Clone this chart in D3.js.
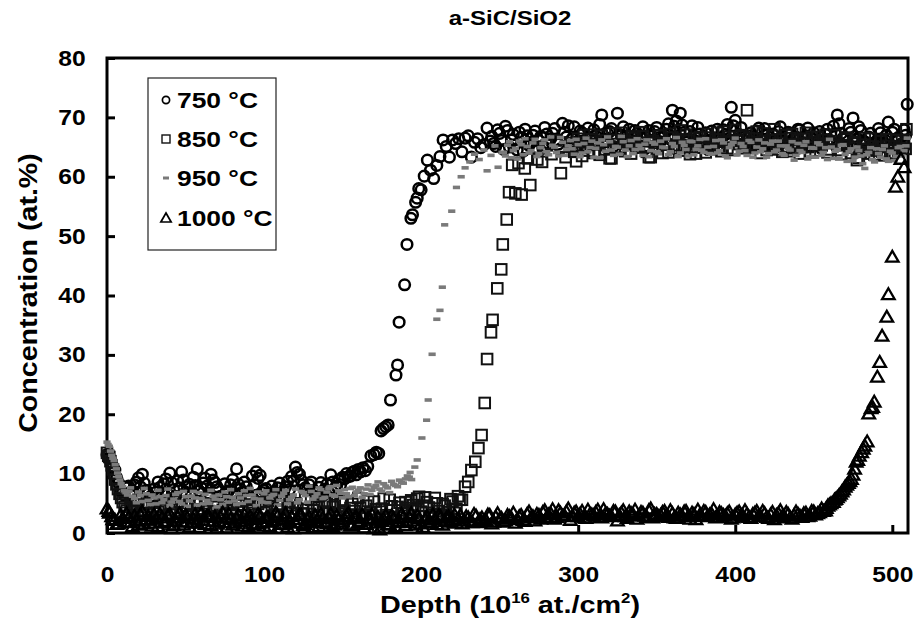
<!DOCTYPE html>
<html>
<head>
<meta charset="utf-8">
<script src="https://cdn.jsdelivr.net/npm/d3@7"></script>
<style>
	body { margin: 0; background: #fff; }
	text { font-family: "Liberation Sans", Arial, sans-serif; font-weight: bold; fill: #000; }
</style>
</head>
<body>
<div id="chart"></div>
<script>
// depth (10^16 at./cm2) , concentration (at.%)
const s750 = [[0,13.2],[1.2,12.6],[2.5,11.9],[3.7,11.2],[5,10.6],[6.2,9.3],[7.5,8.4],[8.7,7.1],[10,6.9],[11.2,6.3],[12.5,7.6],[13.7,7.9],[15,6.4],[16.2,7.0],[17.5,8.1],[18.7,8.6],[20,9.3],[21.2,7.8],[22.5,9.9],[23.7,8.4],[25,7.2],[26.2,6.6],[27.5,6.1],[28.7,5.9],[30,7.4],[31.2,6.9],[32.5,8.6],[33.7,7.7],[35,6.8],[36.2,8.3],[37.5,9.1],[38.7,6.6],[40,10.1],[41.2,8.5],[42.5,7.3],[43.7,6.2],[45,8.8],[46.2,7.6],[47.5,10.3],[48.7,8.9],[50,6.9],[51.2,7.8],[52.5,8.2],[53.7,6.3],[55,9.4],[56.2,8.0],[57.5,10.8],[58.7,7.1],[60,7.6],[61.2,8.4],[62.5,9.2],[63.7,7.9],[65,6.7],[66.2,9.9],[67.5,8.9],[68.7,8.5],[70,7.8],[71.2,7.3],[72.5,6.2],[73.7,5.8],[75,8.3],[76.2,6.9],[77.5,7.1],[78.7,8.1],[80,9.0],[81.2,6.7],[82.5,10.8],[83.7,8.2],[85,7.4],[86.2,6.9],[87.5,8.6],[88.7,7.8],[90,6.4],[91.2,5.9],[92.5,9.6],[93.7,8.1],[95,10.3],[96.2,9.2],[97.5,9.7],[98.7,6.8],[100,7.2],[101.2,7.5],[102.5,6.5],[103.7,5.7],[105,7.9],[106.2,6.8],[107.5,6.1],[108.7,7.6],[110,8.4],[111.2,6.4],[112.5,7.0],[113.7,7.8],[115,8.7],[116.2,7.3],[117.5,9.5],[118.7,8.8],[120,11.1],[121.2,10.2],[122.5,9.9],[123.7,8.9],[125,8.1],[126.2,7.6],[127.5,7.3],[128.7,8.1],[130,8.6],[131.2,7.2],[132.5,6.8],[133.7,6.1],[135,7.7],[136.2,8.5],[137.5,6.3],[138.7,7.4],[140,8.2],[141.2,6.8],[142.5,9.8],[143.7,8.6],[145,7.5],[146.2,7.9],[147.5,8.9],[148.7,8.1],[150,9.4],[151.2,9.1],[152.5,10.0],[153.7,9.5],[155,9.6],[156.2,10.2],[157.5,10.4],[158.7,9.8],[160,10.7],[161.5,10.3],[163,11.0],[164.5,10.5],[166,11.2],[168,13.0],[170,13.2],[171.5,13.6],[173,13.4],[174.5,17.2],[176,17.6],[177.5,17.9],[179,18.2],[180.5,22.4],[184,26.6],[185,28.3],[186,35.5],[189.5,41.8],[191,48.6],[193.5,53.0],[194.5,53.6],[196.5,55.7],[197.5,56.4],[198.5,58.0],[200,57.8],[202,60.1],[204,62.8],[206,61.1],[208,59.7],[210,61.9],[212,63.4],[214,66.2],[216,65.1],[218,63.3],[220,66.2],[222,65.6],[224,66.4],[226,64.2],[228,66.5],[230,66.9],[232,63.3],[234,65.8],[236,66.4],[238,64.9],[240,65.4],[242,68.2],[244,66.0],[245,66.8],[247.5,65.1],[250,67.3],[252.5,64.6],[255,67.8],[257.5,66.2],[260,65.4],[262.5,67.5],[265,64.3],[267.5,66.9],[270,65.8],[272.5,67.7],[275,66.1],[277.5,64.8],[280,67.2],[282.5,66.4],[285,68.1],[287.5,65.5],[290,69.0],[292.5,66.7],[295,65.2],[297.5,68.4],[300,66.0],[302.5,67.4],[305,64.9],[307.5,66.6],[310,67.9],[312.5,65.7],[315,70.4],[317.5,66.3],[320,67.6],[322.5,65.1],[325,70.7],[327.5,67.0],[330,66.2],[332.5,68.0],[335,65.6],[337.5,67.3],[340,66.5],[342.5,64.7],[345,67.8],[347.5,66.1],[350,68.3],[352.5,65.9],[355,67.1],[357.5,68.9],[360,71.2],[362.5,69.4],[365,70.7],[367.5,67.5],[370,66.3],[372.5,68.6],[375,65.4],[377.5,67.2],[380,66.0],[382.5,64.6],[385,67.7],[387.5,66.4],[390,65.1],[392.5,67.9],[395,68.8],[397.5,71.7],[400,69.5],[402.5,67.1],[405,66.2],[407.5,64.8],[410,67.4],[412.5,66.6],[415,68.2],[417.5,65.3],[420,67.0],[422.5,66.1],[425,64.9],[427.5,67.6],[430,66.3],[432.5,65.0],[435,67.3],[437.5,66.6],[440,68.0],[442.5,65.8],[445,66.9],[447.5,65.2],[450,67.4],[452.5,66.0],[455,64.7],[457.5,67.1],[460,66.2],[462.5,68.5],[465,70.4],[467.5,67.3],[470,66.6],[472.5,68.1],[475,69.9],[477.5,66.4],[480,67.8],[482.5,65.9],[485,66.7],[487.5,64.8],[490,66.0],[492.5,67.4],[495,65.6],[497.5,69.2],[500,67.5],[502.5,66.3],[505,65.4],[507.5,67.9],[509.5,72.2],
[246.2,65.6],[248.7,67.9],[251.2,66.1],[253.7,68.5],[256.2,65.0],[258.7,67.1],[261.2,64.5],[263.7,66.6],[266.2,68.0],[268.7,65.3],[271.2,67.0],[273.7,64.9],[276.2,66.8],[278.7,68.3],[281.2,65.6],[283.7,67.3],[286.2,66.2],[288.7,64.7],[291.2,67.5],[293.7,68.6],[296.2,66.4],[298.7,65.1],[301.2,67.7],[303.7,66.0],[306.2,68.2],[308.7,65.4],[311.2,66.9],[313.7,68.8],[316.2,65.8],[318.7,67.3],[321.2,68.1],[323.7,66.5],[326.2,64.8],[328.7,68.4],[331.2,66.9],[333.7,65.5],[336.2,67.8],[338.7,66.0],[341.2,68.4],[343.7,65.2],[346.2,66.8],[348.7,67.6],[351.2,64.9],[353.7,66.6],[356.2,68.0],[358.7,66.3],[361.2,68.5],[363.7,66.0],[366.2,68.7],[368.7,65.9],[371.2,67.6],[373.7,66.2],[376.2,68.3],[378.7,65.7],[381.2,67.4],[383.7,66.1],[386.2,64.9],[388.7,68.0],[391.2,66.5],[393.7,67.1],[396.2,65.8],[398.7,68.6],[401.2,66.4],[403.7,68.3],[406.2,65.5],[408.7,66.9],[411.2,65.0],[413.7,67.7],[416.2,66.3],[418.7,68.1],[421.2,65.4],[423.7,67.2],[426.2,66.0],[428.7,68.4],[431.2,65.9],[433.7,67.5],[436.2,65.1],[438.7,66.7],[441.2,67.9],[443.7,65.6],[446.2,68.2],[448.7,66.4],[451.2,65.3],[453.7,67.6],[456.2,66.1],[458.7,68.0],[461.2,65.7],[463.7,67.2],[466.2,68.9],[468.7,66.5],[471.2,65.2],[473.7,67.5],[476.2,66.8],[478.7,68.4],[481.2,66.0],[483.7,64.6],[486.2,67.3],[488.7,65.7],[491.2,68.1],[493.7,66.2],[496.2,67.0],[498.7,65.3],[501.2,68.0],[503.7,66.6],[506.2,64.9],[508.5,67.0]];

const s850 = [[0,13.5],[1.5,12.8],[3,11.4],[4.5,10.1],[6,8.2],[8,6.6],[10,5.2],[12.5,3.8],[15,4.9],[17.5,2.6],[20,5.6],[22.5,3.4],[25,4.4],[27.5,2.2],[30,5.1],[32.5,3.6],[35,1.9],[37.5,4.7],[40,3.1],[42.5,5.8],[45,2.5],[47.5,4.2],[50,3.3],[52.5,5.4],[55,1.8],[57.5,4.0],[60,2.9],[62.5,5.0],[65,3.7],[67.5,2.1],[70,4.6],[72.5,3.2],[75,5.5],[77.5,2.4],[80,4.1],[82.5,3.0],[85,5.3],[87.5,1.7],[90,3.9],[92.5,4.8],[95,2.6],[97.5,5.2],[100,3.5],[102.5,2.0],[105,4.5],[107.5,3.1],[110,5.7],[112.5,2.3],[115,4.3],[117.5,3.4],[120,5.0],[122.5,1.9],[125,4.0],[127.5,3.2],[130,5.6],[132.5,2.7],[135,4.4],[137.5,3.6],[140,5.1],[142.5,2.2],[145,4.7],[147.5,3.3],[150,5.4],[152.5,2.8],[155,4.2],[157.5,3.7],[160,5.9],[162.5,2.5],[165,4.6],[167.5,3.4],[170,5.3],[172.5,1.2],[175,4.1],[177.5,3.0],[180,5.6],[182.5,2.6],[185,4.4],[187.5,3.8],[190,5.2],[192.5,2.9],[195,4.7],[197.5,5.8],[200,3.6],[202.5,6.0],[205,4.3],[207.5,3.1],[210,5.0],[212.5,2.4],[215,4.6],[217.5,3.5],[220,5.3],[222.5,4.1],[224.5,5.6],[226,5.6],[228,7.8],[230,8.6],[232,10.6],[234.5,12.0],[236.5,14.3],[238.5,16.5],[240.5,21.9],[242,29.3],[244.5,33.8],[245.5,35.9],[248.5,41.2],[251,44.4],[252,48.6],[254.5,52.8],[256,57.4],[258,62.0],[260,57.2],[262,62.3],[264,57.0],[266,61.4],[268,63.1],[269.5,58.6],[272,64.8],[274,62.9],[277,62.5],[280,65.3],[283,63.8],[286,66.1],[289,60.6],[292,63.3],[295,65.7],[297.5,64.2],[300,66.4],[302.5,63.5],[305,65.8],[307.5,67.1],[310,64.0],[312.5,65.5],[315,66.9],[317.5,64.6],[320,63.1],[322.5,66.2],[325,65.0],[327.5,67.4],[330,64.3],[332.5,65.9],[335,66.8],[337.5,64.9],[340,67.5],[342.5,65.2],[345,63.3],[347.5,66.0],[350,64.7],[352.5,67.0],[355,65.6],[357.5,64.1],[360,66.6],[362.5,65.3],[365,67.8],[367.5,64.4],[370,66.1],[372.5,65.0],[375,63.9],[377.5,66.7],[380,65.4],[382.5,67.2],[385,64.6],[387.5,66.3],[390,65.1],[392.5,67.6],[395,64.8],[397.5,66.0],[400,67.9],[402.5,65.5],[405,66.8],[407.5,71.2],[410,64.9],[412.5,66.4],[415,65.2],[417.5,67.3],[420,64.5],[422.5,66.1],[425,68.0],[427.5,65.7],[430,64.2],[432.5,67.0],[435,66.5],[437.5,64.8],[440,66.2],[442.5,65.0],[445,67.4],[447.5,64.1],[450,65.9],[452.5,66.7],[455,65.3],[457.5,67.1],[460,64.6],[462.5,66.0],[465,65.4],[467.5,63.8],[470,66.3],[472.5,64.9],[475,65.6],[477.5,62.8],[480,64.2],[482.5,66.5],[485,63.9],[487.5,65.1],[490,64.4],[492.5,66.0],[495,63.6],[497.5,65.2],[500,64.0],[502.5,66.2],[505,64.8],[507.5,65.5],[509,68.0],
[0.8,13.0],[2.2,12.1],[3.8,10.7],[5.2,9.0],[7,7.4],[9,5.9],[11.2,4.4],[13.7,2.9],[16.2,4.1],[18.7,5.3],[21.2,2.1],[23.7,4.8],[26.2,3.2],[28.7,5.5],[31.2,2.6],[33.7,4.5],[36.2,3.9],[38.7,1.5],[41.2,4.9],[43.7,3.5],[46.2,5.3],[48.7,2.0],[51.2,4.6],[53.7,3.0],[56.2,5.1],[58.7,2.3],[61.2,3.8],[63.7,5.9],[66.2,2.7],[68.7,4.4],[71.2,1.6],[73.7,3.9],[76.2,5.0],[78.7,3.3],[81.2,2.2],[83.7,4.7],[86.2,3.6],[88.7,5.6],[91.2,2.4],[93.7,3.4],[96.2,4.9],[98.7,1.8],[101.2,4.2],[103.7,5.4],[106.2,2.8],[108.7,3.7],[111.2,4.6],[113.7,1.5],[116.2,5.2],[118.7,2.9],[121.2,4.1],[123.7,3.3],[126.2,5.7],[128.7,2.4],[131.2,3.9],[133.7,4.8],[136.2,2.0],[138.7,5.3],[141.2,3.5],[143.7,4.4],[146.2,2.6],[148.7,5.0],[151.2,3.8],[153.7,1.6],[156.2,4.9],[158.7,2.9],[161.2,4.3],[163.7,3.1],[166.2,5.4],[168.7,2.2],[171.2,4.0],[173.7,3.6],[176.2,5.8],[178.7,2.7],[181.2,4.5],[183.7,1.9],[186.2,5.1],[188.7,3.3],[191.2,4.2],[193.7,5.5],[196.2,3.9],[198.7,6.1],[201.2,4.6],[203.7,5.2],[206.2,2.8],[208.7,5.9],[211.2,3.7],[213.7,4.9],[216.2,2.1],[218.7,5.7],[221.2,3.4],[223.5,6.2],
[296.2,65.0],[298.7,62.6],[301.2,65.2],[303.7,67.0],[306.2,64.4],[308.7,66.3],[311.2,65.9],[313.7,63.7],[316.2,66.1],[318.7,65.3],[321.2,63.1],[323.7,67.3],[326.2,64.5],[328.7,66.0],[331.2,65.6],[333.7,63.9],[336.2,66.5],[338.7,65.0],[341.2,66.8],[343.7,64.2],[346.2,63.3],[348.7,65.7],[351.2,66.9],[353.7,64.0],[356.2,65.4],[358.7,67.2],[361.2,64.8],[363.7,66.3],[366.2,65.0],[368.7,67.1],[371.2,63.8],[373.7,66.5],[376.2,64.9],[378.7,65.8],[381.2,64.1],[383.7,66.6],[386.2,65.2],[388.7,67.4],[391.2,64.3],[393.7,65.9],[396.2,66.7],[398.7,64.5],[401.2,66.1],[403.7,67.0],[406.2,64.8],[408.7,66.5],[411.2,65.4],[413.7,67.6],[416.2,64.0],[418.7,66.0],[421.2,65.2],[423.7,66.9],[426.2,64.6],[428.7,66.3],[431.2,65.1],[433.7,64.3],[436.2,67.2],[438.7,65.5],[441.2,63.9],[443.7,66.4],[446.2,65.0],[448.7,66.7],[451.2,64.4],[453.7,65.6],[456.2,66.2],[458.7,64.1],[461.2,65.7],[463.7,67.0],[466.2,64.5],[468.7,65.3],[471.2,66.6],[473.7,64.0],[476.2,65.8],[478.7,63.2],[481.2,65.4],[483.7,64.6],[486.2,66.4],[488.7,63.7],[491.2,65.0],[493.7,64.2],[496.2,66.3],[498.7,63.9],[501.2,65.1],[503.7,64.4],[506.2,66.0],[508.5,64.7]];

const s950 = [[0,15.3],[1.5,14.6],[3,13.1],[4.5,12.2],[6,10.8],[7.5,9.5],[9,8.3],[11,7.1],[13,6.4],[15,7.6],[17.5,5.8],[20,6.9],[22.5,5.3],[25,6.6],[27.5,4.8],[30,5.9],[32.5,7.2],[35,5.1],[37.5,6.3],[40,4.6],[42.5,5.7],[45,6.8],[47.5,4.9],[50,6.1],[52.5,5.4],[55,7.0],[57.5,4.7],[60,5.8],[62.5,6.5],[65,5.0],[67.5,6.2],[70,4.4],[72.5,5.6],[75,6.9],[77.5,5.2],[80,6.0],[82.5,4.8],[85,5.9],[87.5,7.1],[90,5.3],[92.5,6.4],[95,4.6],[97.5,5.7],[100,6.6],[102.5,5.1],[105,6.3],[107.5,7.3],[110,5.5],[112.5,6.7],[115,4.9],[117.5,6.0],[120,7.4],[122.5,5.6],[125,6.8],[127.5,5.2],[130,7.0],[132.5,6.1],[135,7.6],[137.5,5.8],[140,6.9],[142.5,7.8],[145,6.2],[147.5,7.1],[150,5.9],[152.5,6.6],[155,7.5],[157.5,6.3],[160,7.2],[162.5,6.0],[165,7.4],[167.5,6.5],[170,7.7],[172.5,8.6],[175,7.0],[177.5,7.9],[180,6.8],[182.5,8.2],[185,7.8],[187.5,8.5],[190,9.1],[192.5,9.4],[194,9.0],[196,11.1],[197.5,12.3],[200.5,16.0],[203.5,19.0],[204.5,22.4],[207,30.1],[210,36.0],[212,37.5],[213.5,41.4],[215,51.9],[219.5,54.2],[222.5,58.2],[225.5,60.0],[228,61.5],[231,62.5],[234,63.8],[237,62.9],[240,64.5],[242,61.0],[244.5,63.6],[247,65.2],[249,61.6],[251.5,64.1],[252.5,64.1],[255,65.3],[257.5,63.2],[260,64.8],[262.5,66.0],[265,63.7],[267.5,65.1],[270,64.4],[272.5,66.3],[275,63.9],[277.5,65.6],[280,64.2],[282.5,66.7],[285,65.0],[287.5,63.5],[290,65.8],[292.5,64.6],[295,66.1],[297.5,63.8],[300,65.4],[302.5,64.0],[305,66.5],[307.5,64.9],[310,63.3],[312.5,65.7],[315,66.2],[317.5,64.3],[320,65.9],[322.5,63.6],[325,65.0],[327.5,66.8],[330,64.5],[332.5,65.2],[335,63.9],[337.5,66.4],[340,64.7],[342.5,65.5],[345,63.4],[347.5,65.8],[350,64.2],[352.5,66.0],[355,64.9],[357.5,63.7],[360,65.6],[362.5,66.6],[365,64.0],[367.5,65.3],[370,63.5],[372.5,65.9],[375,64.6],[377.5,66.3],[380,64.1],[382.5,65.0],[385,63.8],[387.5,66.1],[390,64.4],[392.5,65.7],[395,63.2],[397.5,65.4],[400,66.5],[402.5,64.3],[405,65.1],[407.5,63.6],[410,65.8],[412.5,64.0],[415,66.2],[417.5,64.7],[420,63.3],[422.5,65.5],[425,64.2],[427.5,66.0],[430,63.9],[432.5,65.2],[435,64.5],[437.5,62.8],[440,65.6],[442.5,64.1],[445,65.9],[447.5,63.4],[450,64.8],[452.5,65.7],[455,63.6],[457.5,64.9],[460,66.3],[462.5,63.1],[465,64.6],[467.5,65.3],[470,63.8],[472.5,64.2],[475,62.7],[477.5,65.0],[480,63.5],[482.5,61.4],[485,64.1],[487.5,62.9],[490,64.7],[492.5,63.3],[495,65.2],[497.5,62.6],[500,64.0],[502.5,63.4],[505,65.1],[507.5,64.4],[509.5,66.5],
[0.7,14.9],[2.2,13.8],[3.7,12.6],[5.2,11.5],[6.7,10.1],[8.2,8.9],[10,7.8],[12,6.8],[14,7.0],[16.2,6.2],[18.7,5.1],[21.2,6.3],[23.7,7.5],[26.2,5.5],[28.7,6.4],[31.2,4.9],[33.7,6.1],[36.2,5.6],[38.7,7.4],[41.2,5.2],[43.7,6.5],[46.2,5.3],[48.7,7.0],[51.2,4.5],[53.7,6.2],[56.2,5.9],[58.7,6.8],[61.2,4.9],[63.7,5.5],[66.2,7.2],[68.7,5.7],[71.2,6.4],[73.7,4.8],[76.2,6.1],[78.7,7.3],[81.2,5.4],[83.7,6.6],[86.2,5.0],[88.7,6.3],[91.2,7.5],[93.7,5.8],[96.2,6.9],[98.7,5.2],[101.2,7.1],[103.7,5.9],[106.2,6.5],[108.7,4.7],[111.2,6.2],[113.7,7.2],[116.2,5.6],[118.7,6.4],[121.2,5.1],[123.7,7.0],[126.2,6.3],[128.7,7.9],[131.2,5.7],[133.7,6.6],[136.2,7.3],[138.7,6.0],[141.2,7.5],[143.7,6.4],[146.2,8.0],[148.7,6.7],[151.2,7.3],[153.7,6.1],[156.2,7.7],[158.7,6.9],[161.2,7.6],[163.7,6.6],[166.2,8.1],[168.7,7.2],[171.2,8.0],[173.7,7.4],[176.2,8.3],[178.7,7.6],[181.2,8.7],[183.7,8.0],[186.2,8.9],[188.7,8.4],[191.2,9.6],[193,10.2],
[253.7,63.5],[256.2,65.9],[258.7,64.4],[261.2,63.0],[263.7,65.4],[266.2,66.4],[268.7,64.0],[271.2,65.7],[273.7,63.4],[276.2,64.9],[278.7,66.2],[281.2,63.7],[283.7,65.3],[286.2,64.1],[288.7,66.6],[291.2,63.6],[293.7,65.2],[296.2,64.7],[298.7,66.3],[301.2,63.4],[303.7,65.6],[306.2,64.2],[308.7,66.0],[311.2,64.8],[313.7,63.2],[316.2,65.4],[318.7,66.7],[321.2,64.5],[323.7,65.1],[326.2,63.8],[328.7,65.9],[331.2,63.4],[333.7,66.1],[336.2,64.6],[338.7,65.3],[341.2,63.6],[343.7,66.2],[346.2,64.4],[348.7,65.5],[351.2,63.9],[353.7,65.0],[356.2,66.4],[358.7,64.2],[361.2,65.1],[363.7,63.4],[366.2,65.8],[368.7,64.6],[371.2,66.0],[373.7,63.7],[376.2,65.2],[378.7,64.5],[381.2,66.4],[383.7,63.9],[386.2,65.1],[388.7,64.0],[391.2,66.2],[393.7,63.5],[396.2,64.9],[398.7,65.8],[401.2,63.7],[403.7,65.6],[406.2,64.4],[408.7,66.1],[411.2,63.3],[413.7,65.0],[416.2,64.2],[418.7,65.7],[421.2,63.9],[423.7,66.0],[426.2,64.5],[428.7,65.2],[431.2,63.6],[433.7,64.8],[436.2,65.9],[438.7,63.6],[441.2,64.4],[443.7,65.3],[446.2,63.0],[448.7,64.9],[451.2,63.3],[453.7,65.4],[456.2,64.1],[458.7,62.9],[461.2,65.0],[463.7,64.3],[466.2,63.1],[468.7,65.4],[471.2,62.6],[473.7,64.7],[476.2,63.3],[478.7,64.4],[481.2,62.2],[483.7,63.7],[486.2,64.9],[488.7,62.5],[491.2,63.9],[493.7,64.6],[496.2,63.0],[498.7,64.3],[501.2,62.7],[503.7,64.9],[506.2,63.5],[508.7,65.2]];

const s1000 = [[0,3.9],[1.5,3.2],[3,2.6],[5,2.0],[7.5,1.4],[10,2.3],[12.5,3.1],[15,1.6],[17.5,2.7],[20,1.2],[22.5,3.4],[25,2.1],[27.5,1.5],[30,2.9],[32.5,0.9],[35,2.4],[37.5,1.8],[40,3.0],[42.5,1.1],[45,2.5],[47.5,1.7],[50,2.8],[52.5,0.8],[55,2.2],[57.5,1.5],[60,3.1],[62.5,1.3],[65,2.6],[67.5,1.9],[70,0.7],[72.5,2.4],[75,1.6],[77.5,3.0],[80,1.2],[82.5,2.3],[85,1.8],[87.5,2.9],[90,0.9],[92.5,2.1],[95,1.4],[97.5,2.7],[100,1.0],[102.5,2.5],[105,1.7],[107.5,3.2],[110,1.3],[112.5,2.2],[115,0.8],[117.5,2.6],[120,1.5],[122.5,2.9],[125,1.1],[127.5,2.0],[130,1.6],[132.5,2.8],[135,0.9],[137.5,2.3],[140,1.4],[142.5,3.0],[145,1.2],[147.5,2.1],[150,1.7],[152.5,2.7],[155,1.0],[157.5,2.4],[160,1.5],[162.5,2.9],[165,1.3],[167.5,2.2],[170,0.6],[172.5,2.5],[175,1.8],[177.5,2.8],[180,1.2],[182.5,2.3],[185,1.6],[187.5,3.0],[190,1.1],[192.5,2.4],[195,1.9],[197.5,2.7],[200,1.4],[202.5,2.2],[205,1.7],[207.5,2.9],[210,1.3],[212.5,2.5],[215,1.8],[217.5,2.6],[220,2.0],[222.5,1.5],[225,2.8],[227.5,1.9],[230,2.4],[232.5,1.6],[235,2.7],[237.5,2.1],[240,1.8],[242.5,2.9],[245,1.4],[247.5,2.5],[250,2.2],[252.5,1.7],[255,2.8],[257.5,2.3],[260,1.5],[262.5,2.6],[265,2.0],[267.5,3.0],[270,2.4],[272.5,1.9],[275,2.8],[277.5,3.3],[280,2.5],[282.5,3.1],[285,2.2],[287.5,3.6],[290,2.7],[292.5,3.4],[295,2.0],[297.5,3.2],[300,2.6],[302.5,3.5],[305,2.3],[307.5,3.0],[310,2.8],[312.5,3.7],[315,2.4],[317.5,3.1],[320,2.7],[322.5,3.5],[325,1.9],[327.5,3.2],[330,2.6],[332.5,3.4],[335,2.9],[337.5,2.2],[340,3.3],[342.5,2.7],[345,3.6],[347.5,2.4],[350,3.0],[352.5,2.8],[355,3.5],[357.5,2.5],[360,3.1],[362.5,2.3],[365,2.9],[367.5,3.4],[370,2.6],[372.5,3.2],[375,2.1],[377.5,2.9],[380,3.5],[382.5,2.7],[385,3.0],[387.5,2.4],[390,3.3],[392.5,2.8],[395,3.1],[397.5,2.2],[400,2.9],[402.5,3.4],[405,2.6],[407.5,3.0],[410,2.3],[412.5,3.2],[415,2.7],[417.5,3.5],[420,2.5],[422.5,2.9],[425,2.1],[427.5,3.1],[430,2.6],[432.5,3.3],[435,2.4],[437.5,2.8],[440,3.0],[442.5,2.5],[445,3.2],[447.5,2.7],[450,3.4],[452.5,3.1],[455,3.9],[457.5,3.6],[459,4.4],[461,4.8],[462.5,5.0],[464,5.5],[466,6.1],[468,6.8],[470,7.6],[472,8.2],[474,8.9],[476,10.6],[477,11.8],[479,12.8],[480.5,13.4],[482.5,14.5],[485,19.9],[486.5,20.8],[488.5,21.9],[490.5,26.1],[492,28.6],[493.5,33.0],[496.5,36.2],[497.5,40.0],[500,46.3],[502,58.1],[503.5,59.8],[505.5,62.8],[507.5,61.4],
[1.2,3.5],[3.7,2.1],[6.2,1.3],[8.7,2.8],[11.2,1.7],[13.7,2.4],[16.2,0.9],[18.7,2.0],[21.2,2.9],[23.7,1.4],[26.2,2.6],[28.7,1.0],[31.2,2.2],[33.7,3.0],[36.2,1.5],[38.7,2.7],[41.2,0.6],[43.7,1.9],[46.2,3.1],[48.7,1.2],[51.2,2.4],[53.7,1.7],[56.2,2.9],[58.7,0.8],[61.2,2.0],[63.7,2.7],[66.2,1.1],[68.7,2.5],[71.2,1.8],[73.7,3.2],[76.2,0.7],[78.7,2.2],[81.2,1.5],[83.7,2.8],[86.2,1.0],[88.7,1.9],[91.2,2.6],[93.7,1.2],[96.2,3.0],[98.7,1.6],[101.2,2.3],[103.7,0.9],[106.2,2.0],[108.7,2.7],[111.2,1.4],[113.7,3.1],[116.2,1.8],[118.7,0.6],[121.2,2.1],[123.7,2.8],[126.2,1.3],[128.7,2.5],[131.2,0.8],[133.7,1.9],[136.2,3.0],[138.7,1.6],[141.2,2.4],[143.7,0.9],[146.2,2.7],[148.7,1.4],[151.2,2.2],[153.7,3.1],[156.2,1.1],[158.7,2.6],[161.2,1.8],[163.7,0.7],[166.2,2.3],[168.7,2.9],[171.2,1.5],[173.7,0.4],[176.2,2.1],[178.7,1.3],[181.2,2.7],[183.7,0.9],[186.2,1.9],[188.7,2.5],[191.2,1.6],[193.7,3.1],[196.2,1.2],[198.7,2.3],[201.2,0.8],[203.7,2.6],[206.2,1.5],[208.7,2.1],[211.2,2.8],[213.7,1.2],[216.2,2.4],[218.7,1.7],[221.2,2.9],[223.7,2.2],[226.2,1.4],[228.7,2.6],[231.2,1.9],[233.7,3.0],[236.2,1.6],[238.7,2.4],[241.2,2.0],[243.7,2.8],[246.2,1.7],[248.7,3.1],[251.2,2.3],[253.7,1.9],[256.2,2.6],[258.7,3.2],[261.2,2.1],[263.7,2.8],[266.2,1.8],[268.7,3.4],[271.2,2.6],[273.7,3.0],[276.2,2.2],[278.7,3.6],[281.2,2.9],[283.7,3.8],[286.2,2.5],[288.7,3.2],[291.2,2.8],[293.7,3.9],[296.2,2.6],[298.7,3.4],[301.2,3.0],[303.7,2.4],[306.2,3.7],[308.7,2.9],[311.2,3.3],[313.7,2.5],[316.2,3.8],[318.7,3.0],[321.2,2.6],[323.7,3.4],[326.2,2.8],[328.7,3.6],[331.2,2.3],[333.7,3.1],[336.2,3.7],[338.7,2.7],[341.2,3.2],[343.7,2.5],[346.2,3.9],[348.7,3.0],[351.2,2.6],[353.7,3.3],[356.2,2.8],[358.7,3.6],[361.2,2.4],[363.7,3.2],[366.2,2.7],[368.7,3.5],[371.2,2.2],[373.7,3.0],[376.2,3.7],[378.7,2.6],[381.2,3.3],[383.7,2.9],[386.2,3.8],[388.7,2.5],[391.2,3.1],[393.7,2.7],[396.2,3.4],[398.7,2.4],[401.2,3.2],[403.7,2.8],[406.2,3.6],[408.7,2.5],[411.2,3.0],[413.7,3.5],[416.2,2.6],[418.7,3.1],[421.2,2.3],[423.7,3.3],[426.2,2.8],[428.7,3.6],[431.2,2.5],[433.7,3.0],[436.2,2.2],[438.7,3.4],[441.2,2.7],[443.7,3.1],[446.2,2.6],[448.7,3.5],[451.2,2.9],[453.7,3.3],[456.2,3.5],[458,4.0],[460,4.6],[463.2,5.4],[465,5.8],[467,6.4],[469,7.1],[471,7.9],[473,8.5],[475,9.6],[478,12.1],[481.5,14.0],[484,15.2],[487.5,21.0]];

const legend_labels = ["750 °C", "850 °C", "950 °C", "1000 °C"];
const x_ticks = [0, 100, 200, 300, 400, 500];
const y_ticks = [0, 10, 20, 30, 40, 50, 60, 70, 80];

const width = 919, height = 626;
const margin = { top: 58, right: 11, bottom: 93, left: 107 };

const svg = d3.select("#chart").append("svg")
	.attr("width", width)
	.attr("height", height);

const x = d3.scaleLinear().domain([0, 510]).range([margin.left, width - margin.right]);
const y = d3.scaleLinear().domain([0, 80]).range([height - margin.bottom, margin.top]);

// axes, ticks pointing inside
const xAxis = svg.append("g")
	.attr("transform", "translate(0," + y(0) + ")")
	.call(d3.axisBottom(x).tickValues(x_ticks).tickSize(-8).tickPadding(33).tickFormat(d3.format("d")));
const yAxis = svg.append("g")
	.attr("transform", "translate(" + x(0) + ",0)")
	.call(d3.axisLeft(y).tickValues(y_ticks).tickSize(-8).tickPadding(19).tickFormat(d3.format("d")));

[xAxis, yAxis].forEach(function (a) {
	a.select(".domain").remove();
	a.selectAll(".tick line").attr("stroke", "#000").attr("stroke-width", 3);
	a.selectAll(".tick text")
		.attr("fill", "#000")
		.style("font-size", "22px")
		.style("font-family", "Liberation Sans, Arial, sans-serif")
		.style("font-weight", "bold")
		.attr("transform", "scale(1.12,1)");
});

// frame
svg.append("rect")
	.attr("x", x(0))
	.attr("y", y(80))
	.attr("width", x(510) - x(0))
	.attr("height", y(0) - y(80))
	.attr("fill", "none")
	.attr("stroke", "#000")
	.attr("stroke-width", 3);

const plot = svg.append("g");

// 750 circles
plot.selectAll("circle.s750")
	.data(s750)
	.enter()
	.append("circle")
	.attr("class", "s750")
	.attr("cx", (d) => x(d[0]))
	.attr("cy", (d) => y(d[1]))
	.attr("r", 5.3)
	.attr("fill", "none")
	.attr("stroke", "#000")
	.attr("stroke-width", 2.5);

// 850 squares
plot.selectAll("rect.s850")
	.data(s850)
	.enter()
	.append("rect")
	.attr("class", "s850")
	.attr("x", (d) => x(d[0]) - 5.3)
	.attr("y", (d) => y(d[1]) - 5.3)
	.attr("width", 10.6)
	.attr("height", 10.6)
	.attr("fill", "none")
	.attr("stroke", "#111")
	.attr("stroke-width", 2);

// 950 small grey dashes
plot.selectAll("rect.s950")
	.data(s950)
	.enter()
	.append("rect")
	.attr("class", "s950")
	.attr("x", (d) => x(d[0]) - 3.6)
	.attr("y", (d) => y(d[1]) - 1.8)
	.attr("width", 7.2)
	.attr("height", 3.6)
	.attr("fill", "#7a7a7a");

// 1000 triangles
const tri = d3.symbol().type(d3.symbolTriangle).size(68);
plot.selectAll("path.s1000")
	.data(s1000)
	.enter()
	.append("path")
	.attr("class", "s1000")
	.attr("d", tri)
	.attr("transform", (d) => "translate(" + x(d[0]) + "," + y(d[1]) + ")")
	.attr("fill", "none")
	.attr("stroke", "#000")
	.attr("stroke-width", 2.3);

// legend
const legend = svg.append("g");
legend.append("rect")
	.attr("x", 148).attr("y", 78)
	.attr("width", 128).attr("height", 172)
	.attr("fill", "#fff")
	.attr("stroke", "#222")
	.attr("stroke-width", 1.2);

const leg_y = [100, 139, 178, 218];
const lx = 166;
legend.append("circle").attr("cx", lx).attr("cy", leg_y[0]).attr("r", 3.6)
	.attr("fill", "none").attr("stroke", "#000").attr("stroke-width", 1.7);
legend.append("rect").attr("x", lx - 4).attr("y", leg_y[1] - 4).attr("width", 8).attr("height", 8)
	.attr("fill", "none").attr("stroke", "#111").attr("stroke-width", 1.4);
legend.append("rect").attr("x", lx - 3).attr("y", leg_y[2] - 1.5).attr("width", 6).attr("height", 3)
	.attr("fill", "#7a7a7a");
legend.append("path").attr("d", d3.symbol().type(d3.symbolTriangle).size(46))
	.attr("transform", "translate(" + lx + "," + (leg_y[3] + 1) + ")")
	.attr("fill", "none").attr("stroke", "#000").attr("stroke-width", 1.7);

legend.selectAll("text.leg")
	.data(legend_labels)
	.enter()
	.append("text")
	.attr("class", "leg")
	.attr("transform", (d, i) => "translate(177," + (leg_y[i] + 8) + ") scale(1.2,1)")
	.style("font-size", "22px")
	.text((d) => d);

// title
svg.append("text")
	.attr("transform", "translate(510,25) scale(1.2,1)")
	.attr("text-anchor", "middle")
	.style("font-size", "20px")
	.text("a-SiC/SiO2");

// x label with superscripts
const xl = svg.append("text")
	.attr("transform", "translate(510,613) scale(1.2,1)")
	.attr("text-anchor", "middle")
	.style("font-size", "24px");
xl.append("tspan").text("Depth (10");
xl.append("tspan").attr("dy", -10).style("font-size", "14px").text("16");
xl.append("tspan").attr("dy", 10).text(" at./cm");
xl.append("tspan").attr("dy", -10).style("font-size", "14px").text("2");
xl.append("tspan").attr("dy", 10).text(")");

// y label
svg.append("text")
	.attr("transform", "translate(37,293) rotate(-90) scale(1.1,1)")
	.attr("text-anchor", "middle")
	.style("font-size", "26px")
	.text("Concentration (at.%)");
</script>
</body>
</html>
